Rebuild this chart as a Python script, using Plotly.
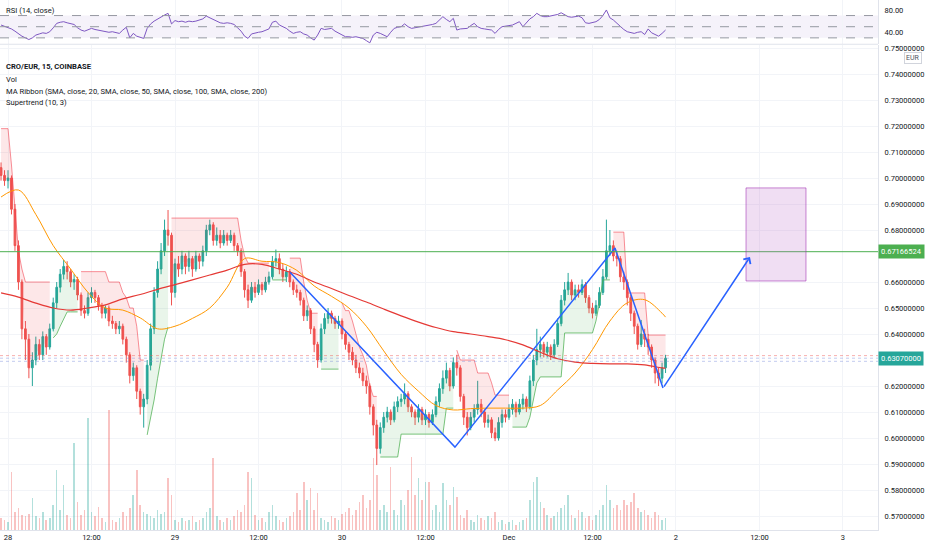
import pandas as pd
import plotly.graph_objects as go

# CRO/EUR, read off the screenshot and resampled to 30 min candles
# first candle opens 2021-11-27 23:00
first_open = 0.7040
closes = [
    0.7010, 0.6990, 0.7000, 0.6880, 0.6740, 0.6600, 0.6420, 0.6380, 0.6270, 0.6300,
    0.6360, 0.6320, 0.6390, 0.6350, 0.6420, 0.6520, 0.6580, 0.6630, 0.6660, 0.6640,
    0.6600, 0.6610, 0.6550, 0.6490, 0.6480, 0.6540, 0.6560, 0.6540, 0.6510, 0.6480,
    0.6500, 0.6450, 0.6440, 0.6420, 0.6430, 0.6380, 0.6320, 0.6240, 0.6270, 0.6180,
    0.6120, 0.6150, 0.6280, 0.6420, 0.6560, 0.6650, 0.6720, 0.6800, 0.6780, 0.6560,
    0.6670, 0.6650, 0.6700, 0.6660, 0.6690, 0.6650, 0.6700, 0.6680, 0.6720, 0.6800,
    0.6820, 0.6760, 0.6780, 0.6750, 0.6780, 0.6760, 0.6780, 0.6740, 0.6720, 0.6640,
    0.6570, 0.6530, 0.6580, 0.6560, 0.6590, 0.6570, 0.6600, 0.6620, 0.6680, 0.6690,
    0.6650, 0.6620, 0.6640, 0.6600, 0.6570, 0.6560, 0.6530, 0.6470, 0.6490, 0.6420,
    0.6360, 0.6300, 0.6420, 0.6460, 0.6480, 0.6460, 0.6440, 0.6450, 0.6400, 0.6360,
    0.6330, 0.6300, 0.6270, 0.6250, 0.6220, 0.6200, 0.6120, 0.6050, 0.5960, 0.6040,
    0.6080, 0.6100, 0.6070, 0.6120, 0.6140, 0.6150, 0.6170, 0.6120, 0.6100, 0.6080,
    0.6110, 0.6070, 0.6090, 0.6060, 0.6090, 0.6140, 0.6190, 0.6230, 0.6260, 0.6200,
    0.6290, 0.6270, 0.6160, 0.6080, 0.6040, 0.6080, 0.6110, 0.6130, 0.6100, 0.6060,
    0.6070, 0.6020, 0.6000, 0.6060, 0.6090, 0.6080, 0.6110, 0.6130, 0.6100, 0.6130,
    0.6150, 0.6120, 0.6220, 0.6300, 0.6340, 0.6360, 0.6330, 0.6350, 0.6320, 0.6360,
    0.6440, 0.6530, 0.6570, 0.6600, 0.6550, 0.6570, 0.6560, 0.6590, 0.6540, 0.6500,
    0.6480, 0.6510, 0.6560, 0.6620, 0.6720, 0.6740, 0.6700, 0.6690, 0.6620, 0.6600,
    0.6540, 0.6480, 0.6430, 0.6360, 0.6400, 0.6380, 0.6350, 0.6300, 0.6250, 0.6230,
    0.6270, 0.6307,
]
highs = [
    0.7060, 0.7030, 0.7030, 0.7010, 0.6900, 0.6760, 0.6610, 0.6450, 0.6400, 0.6330,
    0.6390, 0.6380, 0.6410, 0.6400, 0.6440, 0.6540, 0.6600, 0.6650, 0.6685, 0.6680,
    0.6650, 0.6630, 0.6620, 0.6560, 0.6510, 0.6560, 0.6580, 0.6570, 0.6550, 0.6520,
    0.6510, 0.6510, 0.6470, 0.6450, 0.6450, 0.6440, 0.6390, 0.6330, 0.6290, 0.6280,
    0.6190, 0.6170, 0.6300, 0.6440, 0.6580, 0.6680, 0.6750, 0.6840, 0.6877, 0.6790,
    0.6690, 0.6700, 0.6720, 0.6710, 0.6720, 0.6700, 0.6720, 0.6710, 0.6740, 0.6820,
    0.6840, 0.6830, 0.6810, 0.6800, 0.6800, 0.6790, 0.6800, 0.6790, 0.6750, 0.6730,
    0.6650, 0.6590, 0.6600, 0.6600, 0.6610, 0.6600, 0.6620, 0.6640, 0.6700, 0.6725,
    0.6710, 0.6670, 0.6660, 0.6650, 0.6610, 0.6590, 0.6570, 0.6540, 0.6510, 0.6500,
    0.6430, 0.6370, 0.6440, 0.6480, 0.6500, 0.6490, 0.6470, 0.6470, 0.6460, 0.6410,
    0.6370, 0.6350, 0.6320, 0.6290, 0.6270, 0.6240, 0.6210, 0.6130, 0.6070, 0.6060,
    0.6100, 0.6120, 0.6110, 0.6140, 0.6160, 0.6170, 0.6210, 0.6180, 0.6130, 0.6110,
    0.6130, 0.6120, 0.6110, 0.6100, 0.6110, 0.6160, 0.6210, 0.6260, 0.6290, 0.6270,
    0.6310, 0.6320, 0.6280, 0.6170, 0.6100, 0.6100, 0.6130, 0.6220, 0.6150, 0.6110,
    0.6090, 0.6080, 0.6040, 0.6080, 0.6110, 0.6110, 0.6130, 0.6150, 0.6140, 0.6150,
    0.6170, 0.6160, 0.6240, 0.6320, 0.6420, 0.6390, 0.6370, 0.6370, 0.6360, 0.6380,
    0.6460, 0.6550, 0.6600, 0.6635, 0.6610, 0.6590, 0.6590, 0.6610, 0.6600, 0.6550,
    0.6520, 0.6530, 0.6580, 0.6650, 0.6840, 0.6800, 0.6760, 0.6720, 0.6700, 0.6640,
    0.6610, 0.6550, 0.6490, 0.6440, 0.6454, 0.6420, 0.6400, 0.6360, 0.6310, 0.6270,
    0.6290, 0.6320,
]
lows = [
    0.6990, 0.6970, 0.6960, 0.6860, 0.6720, 0.6570, 0.6380, 0.6300, 0.6230, 0.6200,
    0.6280, 0.6300, 0.6300, 0.6320, 0.6340, 0.6410, 0.6500, 0.6560, 0.6610, 0.6610,
    0.6580, 0.6570, 0.6530, 0.6470, 0.6460, 0.6470, 0.6520, 0.6520, 0.6490, 0.6460,
    0.6460, 0.6430, 0.6420, 0.6400, 0.6400, 0.6360, 0.6290, 0.6210, 0.6220, 0.6150,
    0.6090, 0.6040, 0.6130, 0.6260, 0.6400, 0.6540, 0.6630, 0.6700, 0.6740, 0.6510,
    0.6540, 0.6620, 0.6630, 0.6630, 0.6640, 0.6620, 0.6640, 0.6650, 0.6660, 0.6700,
    0.6780, 0.6740, 0.6740, 0.6730, 0.6740, 0.6740, 0.6750, 0.6720, 0.6700, 0.6620,
    0.6540, 0.6500, 0.6520, 0.6540, 0.6550, 0.6550, 0.6560, 0.6590, 0.6610, 0.6660,
    0.6630, 0.6600, 0.6600, 0.6580, 0.6550, 0.6540, 0.6510, 0.6450, 0.6450, 0.6400,
    0.6330, 0.6270, 0.6290, 0.6400, 0.6440, 0.6440, 0.6420, 0.6420, 0.6380, 0.6340,
    0.6300, 0.6280, 0.6250, 0.6230, 0.6200, 0.6170, 0.6090, 0.6010, 0.5896, 0.5940,
    0.6020, 0.6060, 0.6050, 0.6060, 0.6100, 0.6120, 0.6130, 0.6100, 0.6080, 0.6050,
    0.6060, 0.6050, 0.6050, 0.6040, 0.6050, 0.6080, 0.6120, 0.6170, 0.6210, 0.6180,
    0.6190, 0.6240, 0.6140, 0.6050, 0.6010, 0.6030, 0.6060, 0.6090, 0.6080, 0.6040,
    0.6040, 0.6000, 0.5988, 0.5990, 0.6040, 0.6060, 0.6070, 0.6090, 0.6080, 0.6090,
    0.6110, 0.6100, 0.6110, 0.6200, 0.6280, 0.6310, 0.6310, 0.6310, 0.6300, 0.6310,
    0.6350, 0.6430, 0.6510, 0.6550, 0.6530, 0.6530, 0.6540, 0.6550, 0.6520, 0.6480,
    0.6460, 0.6470, 0.6500, 0.6550, 0.6610, 0.6700, 0.6680, 0.6660, 0.6600, 0.6570,
    0.6510, 0.6450, 0.6400, 0.6340, 0.6350, 0.6350, 0.6320, 0.6270, 0.6210, 0.6200,
    0.6210, 0.6250,
]
# volume in thousands CRO
volume = [
    12, 10, 8, 58, 18, 22, 15, 14, 16, 32,
    14, 12, 18, 10, 12, 25, 60, 20, 45, 15,
    12, 87, 28, 15, 20, 112, 18, 14, 23, 12,
    8, 120, 10, 8, 12, 18, 14, 22, 35, 60,
    25, 18, 16, 14, 12, 20, 16, 18, 52, 35,
    10, 8, 12, 9, 10, 14, 8, 10, 12, 18,
    22, 72, 14, 10, 8, 12, 10, 14, 20, 18,
    25, 58, 52, 15, 10, 12, 8, 18, 25, 14,
    10, 8, 12, 14, 18, 37, 20, 48, 30, 42,
    20, 37, 12, 10, 8, 14, 12, 10, 16, 18,
    22, 15, 20, 28, 35, 22, 30, 72, 55, 20,
    25, 18, 63, 20, 15, 30, 25, 40, 73, 35,
    52, 30, 48, 48, 20, 25, 18, 47, 30, 25,
    43, 33, 15, 12, 20, 10, 8, 15, 12, 10,
    14, 12, 18, 8, 10, 6, 8, 10, 5, 8,
    10, 12, 30, 48, 53, 28, 22, 15, 12, 14,
    18, 22, 25, 35, 15, 12, 20, 18, 12, 14,
    10, 15, 20, 25, 45, 30, 22, 25, 20, 30,
    25, 28, 37, 22, 18, 20, 15, 12, 18, 15,
    10, 12,
]
# Supertrend (10, 3) level per candle
supertrend = [
    0.7190, 0.7190, 0.7190, 0.7050, 0.6900, 0.6720, 0.6650, 0.6600, 0.6600, 0.6600,
    0.6600, 0.6600, 0.6600, 0.6600, 0.6600, 0.6385, 0.6400, 0.6430, 0.6460, 0.6485,
    0.6485, 0.6485, 0.6485, 0.6640, 0.6640, 0.6640, 0.6640, 0.6640, 0.6640, 0.6640,
    0.6640, 0.6600, 0.6600, 0.6600, 0.6600, 0.6560, 0.6540, 0.6500, 0.6500, 0.6430,
    0.6300, 0.6300, 0.6012, 0.6080, 0.6146, 0.6230, 0.6300, 0.6380, 0.6427, 0.6846,
    0.6846, 0.6846, 0.6846, 0.6846, 0.6846, 0.6846, 0.6846, 0.6846, 0.6846, 0.6846,
    0.6846, 0.6846, 0.6846, 0.6846, 0.6846, 0.6846, 0.6846, 0.6846, 0.6846, 0.6760,
    0.6700, 0.6673, 0.6673, 0.6673, 0.6673, 0.6673, 0.6673, 0.6673, 0.6608, 0.6608,
    0.6608, 0.6608, 0.6608, 0.6692, 0.6692, 0.6692, 0.6692, 0.6600, 0.6530, 0.6480,
    0.6480, 0.6480, 0.6265, 0.6265, 0.6265, 0.6265, 0.6265, 0.6265, 0.6520, 0.6490,
    0.6490, 0.6450, 0.6400, 0.6350, 0.6320, 0.6280, 0.6200, 0.6160, 0.6160, 0.5927,
    0.5927, 0.5927, 0.5927, 0.5927, 0.5927, 0.6015, 0.6015, 0.6015, 0.6015, 0.6015,
    0.6015, 0.6015, 0.6015, 0.6015, 0.6015, 0.6015, 0.6015, 0.6015, 0.6115, 0.6115,
    0.6115, 0.6338, 0.6300, 0.6300, 0.6300, 0.6300, 0.6300, 0.6250, 0.6250, 0.6250,
    0.6250, 0.6212, 0.6165, 0.6165, 0.6165, 0.6165, 0.6165, 0.6042, 0.6042, 0.6042,
    0.6042, 0.6042, 0.6080, 0.6146, 0.6212, 0.6235, 0.6235, 0.6235, 0.6235, 0.6235,
    0.6235, 0.6235, 0.6404, 0.6404, 0.6404, 0.6404, 0.6404, 0.6404, 0.6404, 0.6404,
    0.6404, 0.6450, 0.6520, 0.6608, 0.6608, 0.6608, 0.6792, 0.6792, 0.6792, 0.6792,
    0.6558, 0.6558, 0.6558, 0.6558, 0.6558, 0.6558, 0.6396, 0.6396, 0.6396, 0.6396,
    0.6396, 0.6396,
]
rsi = [
    53, 51, 48, 46, 42, 37, 33, 30, 27, 30,
    35, 37, 39, 38, 41, 48, 56, 58, 59, 57,
    55, 54, 48, 44, 42, 44, 47, 45, 44, 42,
    41, 40, 41, 40, 38, 44, 49, 30, 38, 33,
    31, 29, 47, 55, 60, 64, 67, 71, 74, 55,
    61, 59, 60, 58, 60, 59, 60, 62, 64, 69,
    66, 62, 60, 57, 56, 57, 56, 54, 48, 42,
    33, 29, 37, 39, 40, 41, 43, 46, 58, 60,
    53, 50, 47, 42, 38, 40, 41, 37, 35, 30,
    26, 35, 47, 45, 46, 47, 42, 39, 35, 32,
    32, 31, 32, 31, 29, 25, 21, 35, 40, 38,
    35, 32, 40, 47, 49, 50, 55, 50, 47, 48,
    50, 51, 52, 53, 54, 56, 62, 68, 63, 59,
    65, 44, 46, 47, 47, 52, 56, 50, 47, 46,
    45, 44, 38, 45, 50, 51, 53, 53, 56, 59,
    50, 58, 64, 68, 74, 70, 68, 68, 69, 70,
    72, 75, 71, 68, 67, 68, 69, 66, 57, 56,
    58, 59, 63, 70, 80, 66, 62, 56, 50, 45,
    41, 39, 38, 40, 41, 36, 46, 39, 36, 33,
    38, 44,
]

# MA Ribbon lines, sampled every 5 candles
ma_pos = [0, 5, 10, 15, 20, 25, 30, 35, 40, 45, 50, 55, 60, 65, 70, 75, 80, 85, 90, 95,
          100, 105, 110, 115, 120, 125, 130, 135, 140, 145, 150, 155, 160, 165, 170,
          175, 180, 185, 190, 191]
sma50 = [0.6927, 0.6954, 0.6860, 0.6740, 0.6650, 0.6560, 0.6500, 0.6492, 0.6462, 0.6420,
         0.6430, 0.6460, 0.6500, 0.6580, 0.6690, 0.6680, 0.6675, 0.6645, 0.6585, 0.6545,
         0.6500, 0.6430, 0.6335, 0.6245, 0.6180, 0.6125, 0.6108, 0.6113, 0.6115, 0.6115,
         0.6115, 0.6125, 0.6185, 0.6250, 0.6340, 0.6450, 0.6520, 0.6532, 0.6480, 0.6465]
sma200 = [0.6558, 0.6542, 0.6519, 0.6500, 0.6492, 0.6500, 0.6512, 0.6535, 0.6552, 0.6572,
          0.6590, 0.6608, 0.6627, 0.6646, 0.6668, 0.6668, 0.6650, 0.6630, 0.6600, 0.6575,
          0.6548, 0.6523, 0.6496, 0.6470, 0.6446, 0.6425, 0.6409, 0.6400, 0.6390, 0.6378,
          0.6358, 0.6330, 0.6305, 0.6292, 0.6287, 0.6285, 0.6285, 0.6281, 0.6270, 0.6269]

# drawings
zz_times = ['2021-11-29 16:32', '2021-11-30 16:14', '2021-12-01 15:14',
            '2021-12-01 22:08', '2021-12-02 10:38']
zz_prices = [0.6638, 0.5965, 0.6731, 0.6192, 0.6696]
box_times = ['2021-12-02 10:04', '2021-12-02 18:41']
box_prices = [0.6604, 0.6962]
hline_price = 0.67166524
last_price = 0.6307
price_lines = [0.6317, 0.6307, 0.6295]

# price scale ticks (0.63 and 0.67 sit under the price labels)
price_ticks = [0.57, 0.58, 0.59, 0.60, 0.61, 0.62, 0.64, 0.65, 0.66, 0.68, 0.69,
               0.70, 0.71, 0.72, 0.73, 0.74, 0.75]
x_ticks = ['2021-11-28', '2021-11-28 12:00', '2021-11-29', '2021-11-29 12:00',
           '2021-11-30', '2021-11-30 12:00', '2021-12-01', '2021-12-01 12:00',
           '2021-12-02', '2021-12-02 12:00', '2021-12-03']
x_labels = ['28', '12:00', '29', '12:00', '30', '12:00', 'Dec', '12:00', '2', '12:00', '3']

GREEN = '#26a69a'
RED = '#ef5350'
GRID = '#f2f4f8'
TXT = '#131722'

times = pd.date_range('2021-11-27 23:00', periods=len(closes), freq='30min')
opens = [first_open] + closes[:-1]
n = len(closes)

fig = go.Figure()

# volume (bottom layer)
vol_colors = ['rgba(38,166,154,0.35)' if c >= o else 'rgba(239,83,80,0.35)'
              for o, c in zip(opens, closes)]
fig.add_trace(go.Bar(x=times, y=volume, marker=dict(color=vol_colors, line_width=0),
                     width=30 * 60 * 1000 * 0.45, xaxis='x', yaxis='y', hoverinfo='skip'))

# supertrend fills, one pair of traces per direction run
is_down = [s > c for s, c in zip(supertrend, closes)]
start = 0
for i in range(1, n + 1):
    if i == n or is_down[i] != is_down[start]:
        seg = list(range(start, i))
        xs = [times[k] for k in seg]
        mids = [(opens[k] + closes[k]) / 2 for k in seg]
        lv = [supertrend[k] for k in seg]
        if is_down[start]:
            lc, fc = 'rgba(242,54,69,0.55)', 'rgba(242,54,69,0.12)'
        else:
            lc, fc = 'rgba(76,175,80,0.75)', 'rgba(76,175,80,0.12)'
        fig.add_trace(go.Scatter(x=xs, y=mids, mode='lines', line=dict(width=0),
                                 xaxis='x', yaxis='y3', hoverinfo='skip'))
        fig.add_trace(go.Scatter(x=xs, y=lv, mode='lines', line=dict(color=lc, width=1),
                                 fill='tonexty', fillcolor=fc,
                                 xaxis='x', yaxis='y3', hoverinfo='skip'))
        start = i

fig.add_trace(go.Candlestick(
    x=times, open=opens, high=highs, low=lows, close=closes,
    increasing=dict(line=dict(color=GREEN, width=1), fillcolor=GREEN),
    decreasing=dict(line=dict(color=RED, width=1), fillcolor=RED),
    whiskerwidth=0, xaxis='x', yaxis='y3', hoverinfo='skip'))

ma_times = [times[k] for k in ma_pos]
fig.add_trace(go.Scatter(x=ma_times, y=sma50, mode='lines',
                         line=dict(color='#ff9800', width=1, shape='spline'),
                         xaxis='x', yaxis='y3', hoverinfo='skip'))
fig.add_trace(go.Scatter(x=ma_times, y=sma200, mode='lines',
                         line=dict(color='#e53935', width=1.2, shape='spline'),
                         xaxis='x', yaxis='y3', hoverinfo='skip'))

fig.add_trace(go.Scatter(x=zz_times[:4], y=zz_prices[:4], mode='lines',
                         line=dict(color='#2962ff', width=1.5),
                         xaxis='x', yaxis='y3', hoverinfo='skip'))

# RSI pane
fig.add_trace(go.Scatter(x=times, y=rsi, mode='lines', line=dict(color='#7e57c2', width=1),
                         xaxis='x2', yaxis='y2', hoverinfo='skip'))

shapes = [
    dict(type='rect', xref='paper', yref='y2', x0=0, x1=1, y0=30, y1=70,
         fillcolor='rgba(126,87,194,0.08)', line_width=0, layer='below'),
    dict(type='line', xref='paper', yref='paper', x0=0, x1=1, y0=0.9165, y1=0.9165,
         line=dict(color='#e0e3eb', width=1)),
    dict(type='line', xref='paper', yref='y3', x0=0, x1=1, y0=hline_price, y1=hline_price,
         line=dict(color='#4caf50', width=1)),
    dict(type='rect', xref='x', yref='y3', x0=box_times[0], x1=box_times[1],
         y0=box_prices[0], y1=box_prices[1], fillcolor='rgba(186,104,200,0.22)',
         line=dict(color='rgba(156,39,176,0.55)', width=1)),
]
for lvl in [30, 50, 70]:
    shapes.append(dict(type='line', xref='paper', yref='y2', x0=0, x1=1, y0=lvl, y1=lvl,
                       line=dict(color='#9598a1', width=1, dash='dash')))
line_cols = ['rgba(239,83,80,0.45)', 'rgba(120,140,220,0.45)', 'rgba(120,140,220,0.45)']
for lvl, col in zip(price_lines, line_cols):
    shapes.append(dict(type='line', xref='paper', yref='y3', x0=0, x1=1, y0=lvl, y1=lvl,
                       line=dict(color=col, width=1, dash='dot')))

legend_rows = [
    ('RSI (14, close)', 0.981),
    ('<b>CRO/EUR, 15, COINBASE</b>', 0.8736),
    ('Vol', 0.8509),
    ('MA Ribbon (SMA, close, 20, SMA, close, 50, SMA, close, 100, SMA, close, 200)', 0.8283),
    ('Supertrend (10, 3)', 0.8057),
]
annotations = [dict(text=t, x=0.005, y=y, xref='paper', yref='paper', xanchor='left',
                    yanchor='middle', showarrow=False, font=dict(size=7.6, color=TXT))
               for t, y in legend_rows]
annotations += [
    dict(text='0.67166524', x=1.0, y=hline_price, xref='paper', yref='y3', xanchor='left',
         showarrow=False, bgcolor='#4caf50', borderpad=2, font=dict(size=7.5, color='white')),
    dict(text='0.63070000', x=1.0, y=last_price, xref='paper', yref='y3', xanchor='left',
         showarrow=False, bgcolor=GREEN, borderpad=2, font=dict(size=7.5, color='white')),
    dict(text='EUR', x=1.03, y=0.7460, xref='paper', yref='y3', xanchor='left',
         showarrow=False, bordercolor='#d1d4dc', borderwidth=1, borderpad=1,
         bgcolor='white', font=dict(size=7, color='#50535e')),
    dict(text='', x=zz_times[4], y=zz_prices[4], ax=zz_times[3], ay=zz_prices[3],
         xref='x', yref='y3', axref='x', ayref='y3', showarrow=True,
         arrowhead=4, arrowsize=1.1, arrowwidth=1.5, arrowcolor='#2962ff'),
]

fig.update_layout(
    width=932, height=550,
    margin=dict(l=0, r=54, t=0, b=20),
    paper_bgcolor='white', plot_bgcolor='white',
    font=dict(family='Roboto', size=8, color=TXT),
    showlegend=False,
    bargap=0,
    xaxis=dict(type='date', domain=[0, 1], anchor='y',
               range=['2021-11-27 22:51', '2021-12-03 05:02'],
               tickvals=x_ticks, ticktext=x_labels, tickfont=dict(size=7.5, color=TXT),
               showgrid=True, gridcolor=GRID, showline=True, linecolor='#e0e3eb',
               zeroline=False, rangeslider=dict(visible=False)),
    xaxis2=dict(type='date', matches='x', anchor='y2', showticklabels=False,
                showgrid=True, gridcolor=GRID, zeroline=False),
    yaxis=dict(domain=[0, 0.915], range=[0, 485], visible=False, fixedrange=True),
    yaxis3=dict(overlaying='y', side='right', range=[0.56462, 0.75115],
                tickvals=price_ticks, tickformat='.8f', tickfont=dict(size=7.5, color=TXT),
                showgrid=True, gridcolor=GRID, showline=True, linecolor='#e0e3eb',
                zeroline=False, ticklabelstandoff=4),
    yaxis2=dict(domain=[0.917, 1], range=[19, 97.9], side='right', anchor='x2',
                tickvals=[40, 80], ticktext=['40.00', '80.00'],
                tickfont=dict(size=7.5, color=TXT), showgrid=False, showline=True,
                linecolor='#e0e3eb', zeroline=False, ticklabelstandoff=4),
    shapes=shapes,
    annotations=annotations,
)

# the page body has an 8px default margin; drop it so the chart sits at the corner
fig.write_html('out.html', config={'displayModeBar': False},
               post_script="document.body.style.margin='0';")
